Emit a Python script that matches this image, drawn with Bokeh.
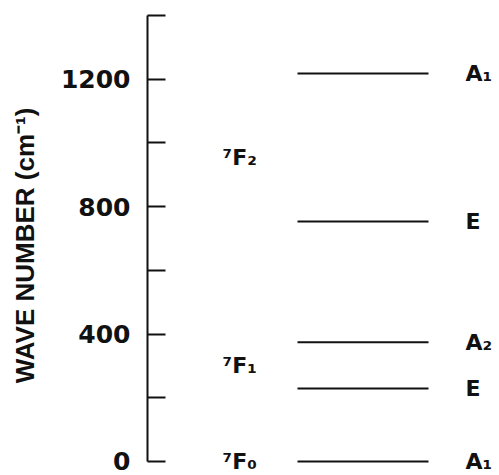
from bokeh.plotting import figure
from bokeh.models import Range1d, FixedTicker, ColumnDataSource
from bokeh.embed import file_html
from bokeh.resources import INLINE
from bokeh.core.properties import value

# ---- data ----
level_energies = [0, 229, 374, 753, 1218]          # cm^-1
level_symmetries = ["A₁", "E", "A₂", "E", "A₁"]
term_labels = ["⁷F₀", "⁷F₁", "⁷F₂"]
term_energies = [0, 302, 955]
major_ticks = [0, 400, 800, 1200]
minor_ticks = [200, 600, 1000, 1400]
axis_title = "WAVE NUMBER (cm⁻¹)"

# ---- layout constants (x units = screen pixels right of the axis) ----
LINE_X0, LINE_X1 = 150, 281
TERM_X = 75
SYM_X = 318

p = figure(width=499, height=475,
           x_range=Range1d(0, 352), y_range=Range1d(-44, 1400),
           output_backend="svg", toolbar_location=None,
           x_axis_location=None, y_axis_location="left",
           min_border_left=147, min_border_right=0,
           min_border_top=15, min_border_bottom=0)
p.outline_line_color = None
p.grid.grid_line_color = None
p.background_fill_color = "white"

ax = p.yaxis[0]
ax.ticker = FixedTicker(ticks=major_ticks, minor_ticks=minor_ticks)
ax.bounds = (0, 1400)
ax.axis_line_width = 2
ax.axis_line_color = "#111111"
ax.major_tick_in = 18
ax.major_tick_out = 0
ax.minor_tick_in = 18
ax.minor_tick_out = 0
ax.major_tick_line_width = 2
ax.minor_tick_line_width = 2
ax.major_tick_line_color = "#111111"
ax.minor_tick_line_color = "#111111"
ax.major_label_standoff = 17
ax.major_label_text_font = "DejaVu Sans"
ax.major_label_text_font_size = "25px"
ax.major_label_text_font_style = "bold"
ax.major_label_text_color = "#111111"
ax.axis_label = axis_title
ax.axis_label_text_font = "Liberation Sans"
ax.axis_label_text_font_size = "26px"
ax.axis_label_text_font_style = "bold"
ax.axis_label_text_color = "#111111"
ax.axis_label_standoff = 18

lev = ColumnDataSource(dict(
    x0=[LINE_X0] * len(level_energies),
    x1=[LINE_X1] * len(level_energies),
    y=level_energies,
    xs=[SYM_X] * len(level_energies),
    sym=level_symmetries,
))
p.segment(x0="x0", y0="y", x1="x1", y1="y", source=lev,
          line_color="#111111", line_width=2)
p.text(x="xs", y="y", text="sym", source=lev,
       text_font=value("DejaVu Sans"), text_font_size="22px",
       text_font_style="bold", text_color="#111111",
       text_align="left", text_baseline="middle")

terms = ColumnDataSource(dict(
    x=[TERM_X] * len(term_labels),
    y=term_energies,
    t=term_labels,
))
p.text(x="x", y="y", text="t", source=terms,
       text_font=value("DejaVu Sans"), text_font_size="22px",
       text_font_style="bold", text_color="#111111",
       text_align="left", text_baseline="middle")

open("out.html", "w").write(file_html(p, INLINE))
